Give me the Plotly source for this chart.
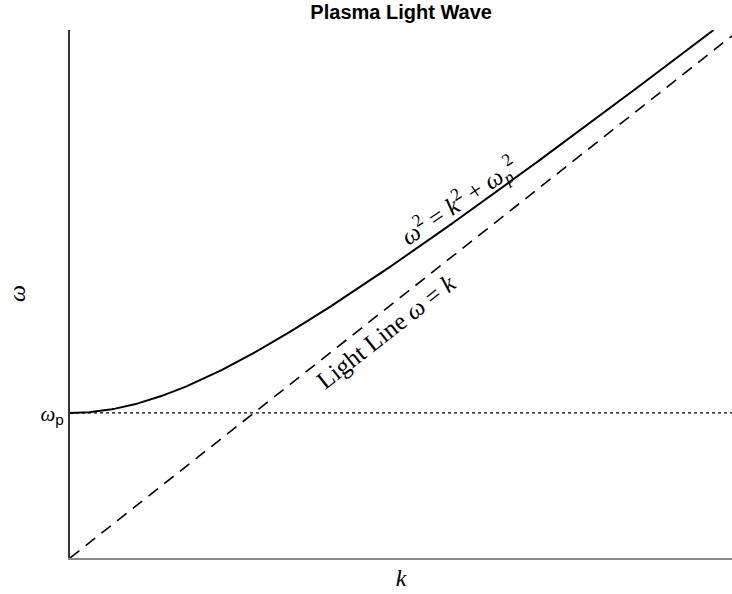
import numpy as np
import plotly.graph_objects as go

# Plasma frequency (normalised units) and wavenumber samples
omega_p = 1.0
k_max = 3.5
k_axis_max = 3.6
k_values = np.linspace(0.0, k_max, 200)

# Dispersion relation of a light wave in a plasma: w^2 = k^2 + wp^2
omega_values = np.sqrt(k_values ** 2 + omega_p ** 2)

# Light line w = k and the plasma-frequency cutoff
light_k = [0.0, k_axis_max]
light_omega = [0.0, k_axis_max]
cutoff_k = [0.0, k_axis_max]
cutoff_omega = [omega_p, omega_p]

SERIF = "Liberation Serif, Times New Roman, serif"
SANS = "Liberation Sans, Arial, sans-serif"

fig = go.Figure()

fig.add_trace(go.Scatter(
    x=cutoff_k, y=cutoff_omega, mode="lines",
    line=dict(color="black", width=1.2, dash="dot"),
    hoverinfo="skip", showlegend=False,
))
fig.add_trace(go.Scatter(
    x=light_k, y=light_omega, mode="lines",
    line=dict(color="black", width=1.6, dash="12px,8px"),
    hoverinfo="skip", showlegend=False,
))
fig.add_trace(go.Scatter(
    x=k_values, y=omega_values, mode="lines",
    line=dict(color="black", width=2),
    hoverinfo="skip", showlegend=False,
))

# Labels written along the curves
fig.add_annotation(
    x=2.12, y=2.46, xref="x", yref="y",
    text="<i>ω</i><sup>2</sup> = <i>k</i><sup>2</sup> + <i>ω</i><sub><i>p</i></sub><sup>2</sup>",
    showarrow=False, textangle=-34,
    font=dict(family=SERIF, size=25, color="black"),
    xanchor="center", yanchor="middle",
)
fig.add_annotation(
    x=1.72, y=1.56, xref="x", yref="y",
    text="Light Line <i>ω</i> = <i>k</i>",
    showarrow=False, textangle=-38,
    font=dict(family=SERIF, size=25, color="black"),
    xanchor="center", yanchor="middle",
)

# Vertical-axis title, turned a quarter counter-clockwise
fig.add_annotation(
    x=-0.08, y=0.5, xref="paper", yref="paper",
    text="<i>ω</i>", showarrow=False, textangle=-90,
    font=dict(family=SERIF, size=24, color="black"),
    xanchor="center", yanchor="middle",
)

fig.update_layout(
    width=732, height=594,
    margin=dict(l=70, r=0, t=30, b=36),
    paper_bgcolor="white", plot_bgcolor="white",
    title=dict(
        text="<b>Plasma Light Wave</b>",
        x=0.548, xanchor="center", y=0.979, yanchor="middle",
        font=dict(family=SANS, size=20, color="black"),
    ),
    xaxis=dict(
        range=[0, k_axis_max], showgrid=False, zeroline=False,
        showticklabels=False, ticks="",
        showline=True, linecolor="#8a8a8a", linewidth=1.5,
        title=dict(text="<i>k</i>", font=dict(family=SERIF, size=24, color="black"), standoff=10),
    ),
    yaxis=dict(
        range=[0, np.sqrt(k_max ** 2 + omega_p ** 2)], showgrid=False, zeroline=False,
        tickmode="array", tickvals=[omega_p],
        ticktext=['<span style="font-family:Liberation Serif;font-size:21px"><i>ω</i></span><sub>p</sub>'],
        tickfont=dict(family=SANS, size=22, color="black"),
        ticks="", ticklen=0,
        showline=True, linecolor="#333333", linewidth=1.5,
    ),
)

fig.write_html("out.html")
